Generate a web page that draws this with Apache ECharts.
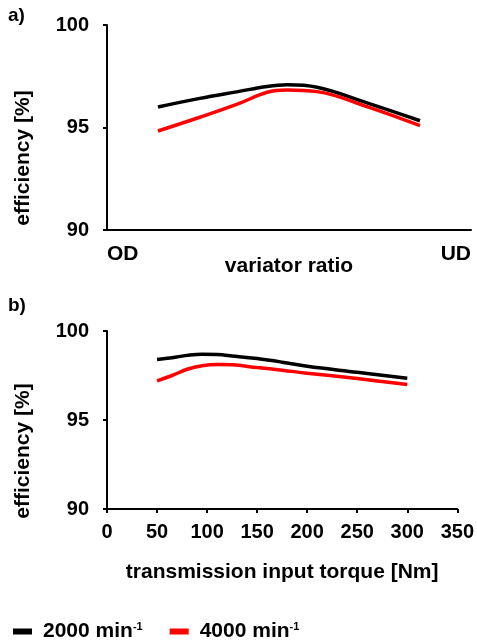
<!DOCTYPE html>
<html>
<head>
<meta charset="utf-8">
<script src="https://cdn.jsdelivr.net/npm/echarts@6/dist/echarts.min.js"></script>
<style>
  html, body { margin: 0; padding: 0; background: #fff; }
  #main { width: 477px; height: 643px; }
</style>
</head>
<body>
<div id="main"></div>
<script>
    var chart = echarts.init(document.getElementById('main'));

    // a) efficiency over variator ratio (0 = OD, 1 = UD)
    var ratioPos = [0.14, 0.255, 0.36, 0.44, 0.495, 0.577, 0.714, 0.86];
    var ratioEff2000 = [96.0, 96.42, 96.75, 97.0, 97.08, 96.96, 96.2, 95.33];
    var ratioEff4000 = [94.83, 95.5, 96.15, 96.72, 96.83, 96.75, 96.02, 95.09];

    // b) efficiency over transmission input torque
    var torque = [50, 65, 80, 95, 110, 125, 150, 175, 200, 250, 300];
    var torqueEff2000 = [98.4, 98.5, 98.63, 98.7, 98.68, 98.6, 98.45, 98.25, 98.02, 97.68, 97.34];
    var torqueEff4000 = [97.2, 97.5, 97.85, 98.05, 98.12, 98.1, 97.95, 97.8, 97.63, 97.33, 97.0];

    var seriesNames = ['2000 min-1', '4000 min-1'];
    var seriesColors = ['#000000', '#ff0000'];

    function pairs(xs, ys) {
        return xs.map(function (x, i) { return [x, ys[i]]; });
    }

    var font = '"Liberation Sans", Arial, sans-serif';
    var tickStyle = { color: '#000', fontSize: 20, fontWeight: 'bold', fontFamily: font };
    var nameStyle = { color: '#000', fontSize: 21, fontWeight: 'bold', fontFamily: font };

    function yAxisDef(gridIndex) {
        return {
            type: 'value', gridIndex: gridIndex, min: 90, max: 100, interval: 5,
            axisLine: { show: true, lineStyle: { color: '#000', width: 2 } },
            axisTick: { show: true, length: 4, lineStyle: { color: '#000', width: 2 } },
            axisLabel: Object.assign({ margin: 18 }, tickStyle),
            splitLine: { show: false }
        };
    }

    function lineSeries(name, color, xi, data) {
        return {
            name: name, type: 'line', xAxisIndex: xi, yAxisIndex: xi,
            data: data, smooth: 0.4, symbol: 'none',
            lineStyle: { color: color, width: 3.5 },
            itemStyle: { color: color }
        };
    }

    var option = {
        animation: false,
        backgroundColor: '#fff',
        grid: [
            { left: 107, right: 6, top: 25, bottom: 413 },
            { left: 107, right: 7, top: 331, bottom: 134 }
        ],
        xAxis: [
            {
                type: 'value', gridIndex: 0, min: 0, max: 1, interval: 1,
                name: 'variator ratio', nameLocation: 'middle', nameGap: 26,
                nameMoveOverlap: false,
                nameTextStyle: nameStyle,
                axisLine: { show: true, onZero: false, lineStyle: { color: '#000', width: 2 } },
                axisTick: { show: false },
                axisLabel: Object.assign({
                    margin: 14, alignMinLabel: 'left', alignMaxLabel: 'right',
                    formatter: function (v) { return v === 0 ? 'OD' : 'UD'; }
                }, nameStyle),
                splitLine: { show: false }
            },
            {
                type: 'value', gridIndex: 1, min: 0, max: 350, interval: 50,
                name: 'transmission input torque [Nm]', nameLocation: 'middle', nameGap: 53,
                nameMoveOverlap: false,
                nameTextStyle: nameStyle,
                axisLine: { show: true, onZero: false, lineStyle: { color: '#000', width: 2 } },
                axisTick: { show: true, length: 4, lineStyle: { color: '#000', width: 2 } },
                axisLabel: Object.assign({ margin: 13 }, tickStyle),
                splitLine: { show: false }
            }
        ],
        yAxis: [yAxisDef(0), yAxisDef(1)],
        legend: {
            left: 13, top: 621, padding: 0,
            itemWidth: 19, itemHeight: 6, itemGap: 27,
            icon: 'rect',
            data: seriesNames,
            formatter: function (name) {
                return '{a|' + name.replace('-1', '') + '}{s|-1}';
            },
            textStyle: {
                padding: [0, 0, 0, 6],
                rich: {
                    a: { color: '#000', fontSize: 21, fontWeight: 'bold', fontFamily: font },
                    s: { color: '#000', fontSize: 11, fontWeight: 'bold', fontFamily: font, padding: [0, 0, 10, 0] }
                }
            }
        },
        graphic: [
            { type: 'text', left: 8, top: 6, style: { text: 'a)', fill: '#000', font: 'bold 19px ' + font } },
            { type: 'text', left: 8, top: 296, style: { text: 'b)', fill: '#000', font: 'bold 19px ' + font } },
            { type: 'text', x: 23, y: 158, rotation: Math.PI / 2,
              style: { text: 'efficiency [%]', fill: '#000', font: 'bold 21px ' + font, align: 'center', verticalAlign: 'middle' } },
            { type: 'text', x: 23, y: 451, rotation: Math.PI / 2,
              style: { text: 'efficiency [%]', fill: '#000', font: 'bold 21px ' + font, align: 'center', verticalAlign: 'middle' } }
        ],
        series: [
            lineSeries(seriesNames[0], seriesColors[0], 0, pairs(ratioPos, ratioEff2000)),
            lineSeries(seriesNames[1], seriesColors[1], 0, pairs(ratioPos, ratioEff4000)),
            lineSeries(seriesNames[0], seriesColors[0], 1, pairs(torque, torqueEff2000)),
            lineSeries(seriesNames[1], seriesColors[1], 1, pairs(torque, torqueEff4000))
        ]
    };
    chart.setOption(option);
</script>
</body>
</html>
